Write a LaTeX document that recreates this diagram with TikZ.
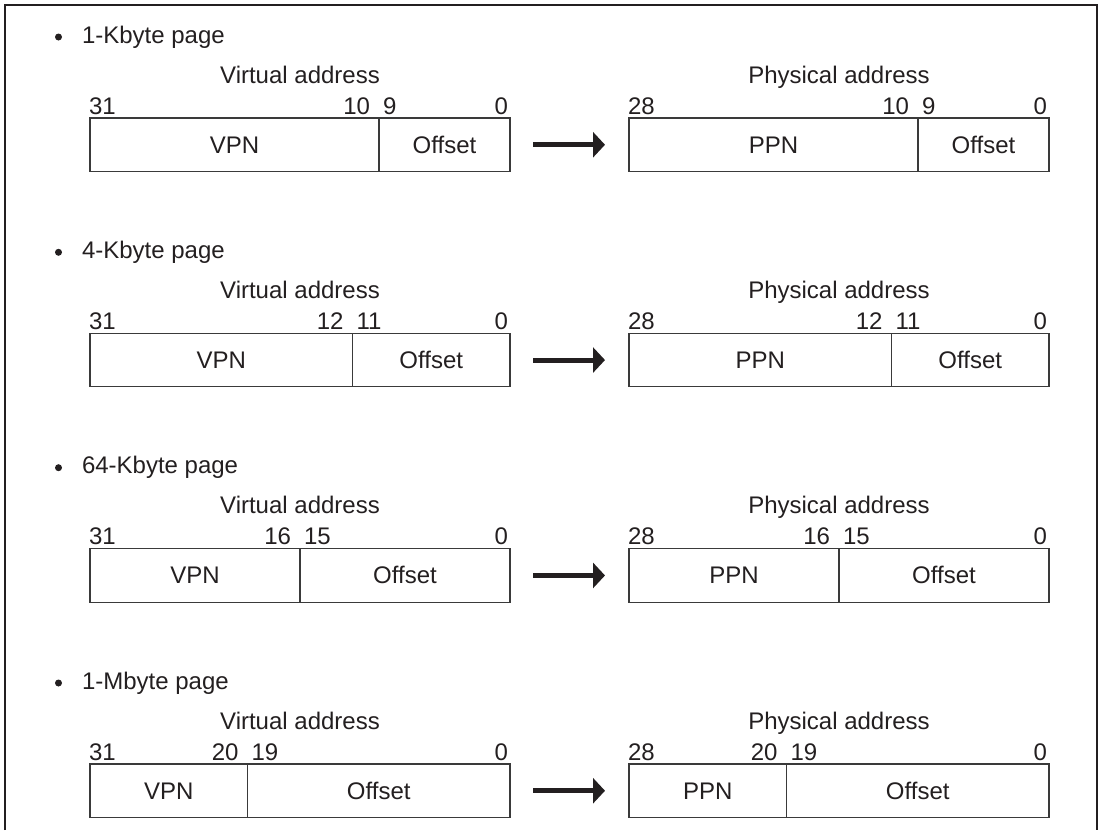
\documentclass[tikz,border=0pt]{standalone}
\usepackage{fontspec}
\setmainfont{Liberation Sans}
\usetikzlibrary{arrows.meta}
\definecolor{ink}{HTML}{231F20}
\definecolor{rule}{HTML}{3A3A3A}
\begin{document}
\begin{tikzpicture}[x=1pt,y=-1pt,
  every node/.style={font=\fontsize{24}{29}\selectfont, text=ink, inner sep=0pt, outer sep=0pt},
  field/.style={draw=rule, line width=1.3pt, minimum height=53.5pt, anchor=center, text height=17pt, text depth=0pt},
  dot/.style={circle, fill=ink, minimum size=7pt},
  bigarrow/.style={draw=ink, line width=5pt, -{Triangle[length=12pt,width=25pt]}, shorten <=23pt, shorten >=24pt}]
\useasboundingbox (0,0) rectangle (1103,830);
\draw[line width=2pt, draw=ink] (5,830) -- (5,5) -- (1097,5) -- (1097,830);
\foreach \i/\T/\w/\hi/\lo/\title in {1/118/131/10/9/1-Kbyte page, 2/333.3/157.5/12/11/4-Kbyte page, 3/548.7/210/16/15/64-Kbyte page, 4/764/262.5/20/19/1-Mbyte page}{
  \pgfmathsetmacro\vd{510-\w}
  \pgfmathsetmacro\pd{1049-\w}
  \pgfmathsetmacro\ym{\T+26.75}
  \node[dot] (bul\i) at (58.5,\T-81) {};
  \node[anchor=base west] (tit\i) at (82,\T-75) {\title};
  \node[anchor=base] (va\i) at (300,\T-35) {Virtual address};
  \node[anchor=base] (pa\i) at (839,\T-35) {Physical address};
  \node[anchor=base west] (vtop\i) at (89,\T-4) {31};
  \node[anchor=base east] (vhi\i) at (\vd-9,\T-4) {\hi};
  \node[anchor=base west] (vlo\i) at (\vd+4,\T-4) {\lo};
  \node[anchor=base east] (vbot\i) at (508,\T-4) {0};
  \node[anchor=base west] (ptop\i) at (628,\T-4) {28};
  \node[anchor=base east] (phi\i) at (\pd-9,\T-4) {\hi};
  \node[anchor=base west] (plo\i) at (\pd+4,\T-4) {\lo};
  \node[anchor=base east] (pbot\i) at (1047,\T-4) {0};
  \node[field, minimum width={\vd-90}] (vpn\i) at ({(90+\vd)/2},\ym) {VPN};
  \node[field, minimum width={\w}] (voff\i) at ({(\vd+510)/2},\ym) {Offset};
  \node[field, minimum width={\pd-629}] (ppn\i) at ({(629+\pd)/2},\ym) {PPN};
  \node[field, minimum width={\w}] (poff\i) at ({(\pd+1049)/2},\ym) {Offset};
  \draw[bigarrow] (voff\i.east) -- (ppn\i.west);
}
\end{tikzpicture}
\end{document}
